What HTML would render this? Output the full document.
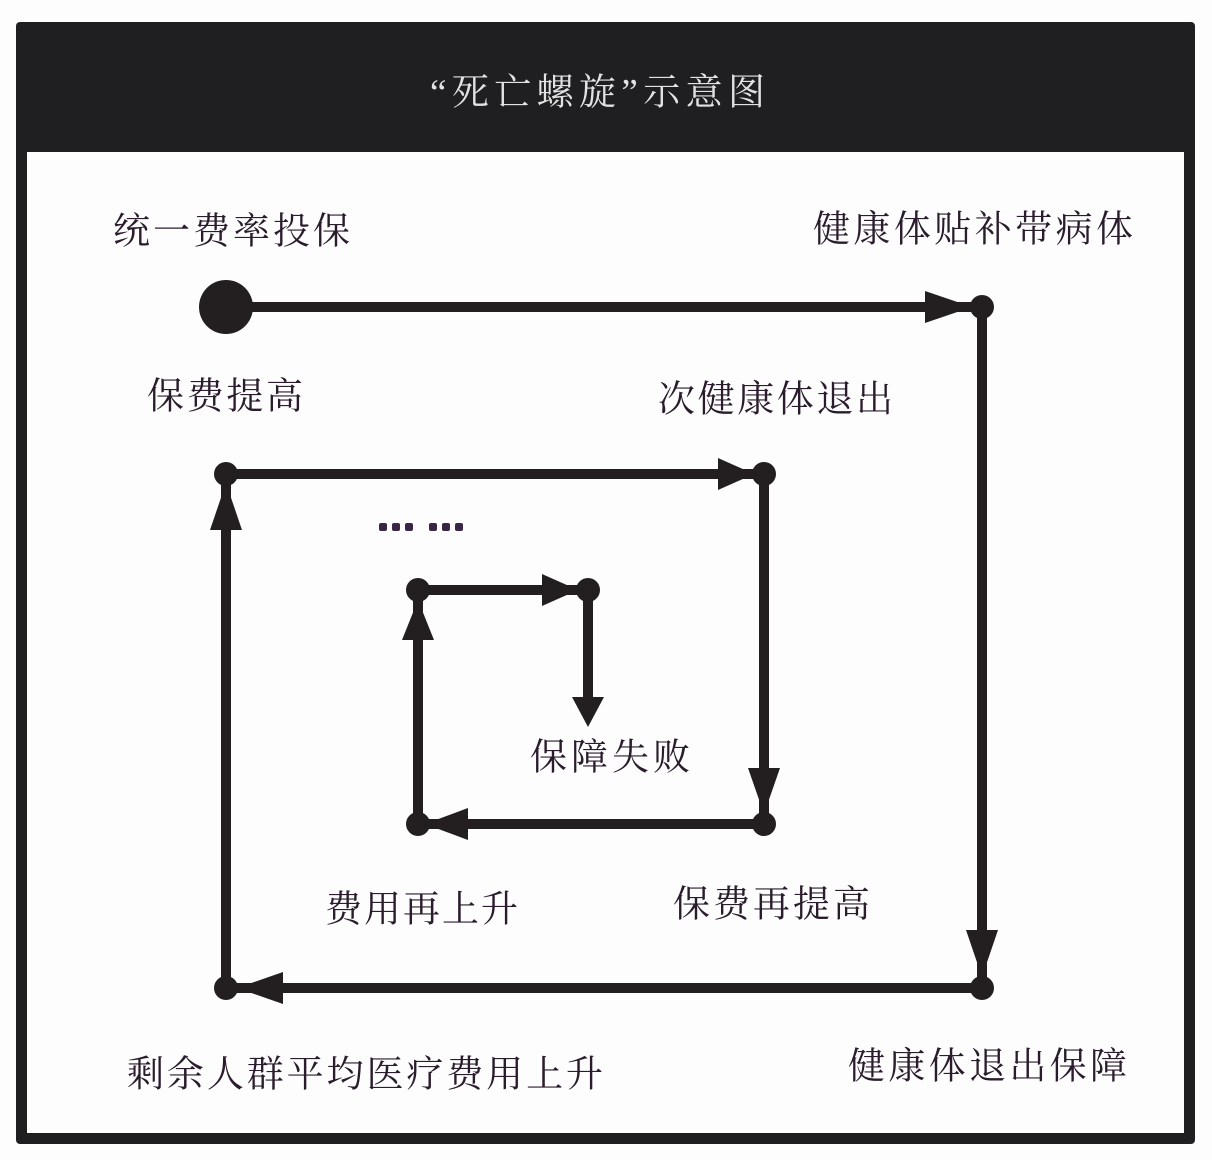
<!DOCTYPE html>
<html><head><meta charset="utf-8"><style>
html,body{margin:0;padding:0;background:#fdfdfd;}
svg{display:block}
text{font-family:"Liberation Serif","Noto Serif CJK SC",serif;fill:#2a1c2c;font-size:37px;dominant-baseline:central;}
</style></head><body>
<svg width="1212" height="1160" viewBox="0 0 1212 1160" xmlns="http://www.w3.org/2000/svg">
<rect x="0" y="0" width="1212" height="1160" fill="#fdfdfd"/>
<rect x="16" y="22" width="1179" height="1122" rx="4" fill="#1f1e20"/>
<rect x="27" y="152" width="1157" height="981" fill="#fdfdfe"/>
<text x="430" y="93" textLength="335" style="fill:#e2e2e2;font-size:37px">“死亡螺旋”示意图</text>
<g stroke="#231f20" stroke-width="10" fill="none">
<polyline points="226,307 982,307 982,988 226,988 226,474 764,474 764,824 418,824 418,590 588,590 588,700"/>
</g>
<g fill="#231f20">
<circle cx="226" cy="307" r="27"/>
<circle cx="982" cy="307" r="12"/><circle cx="982" cy="988" r="12"/><circle cx="226" cy="988" r="12"/>
<circle cx="226" cy="474" r="12"/><circle cx="764" cy="474" r="12"/><circle cx="764" cy="824" r="12"/>
<circle cx="418" cy="824" r="12"/><circle cx="418" cy="590" r="12"/><circle cx="588" cy="590" r="12"/>
<!-- arrows -->
<polygon points="925,291 972,307 925,323"/>
<polygon points="966,930 998,930 982,977"/>
<polygon points="283,972 283,1004 237,988"/>
<polygon points="210,530 242,530 226,483"/>
<polygon points="718,458 718,490 754,474"/>
<polygon points="748,768 780,768 764,814"/>
<polygon points="468,808 468,840 425,824"/>
<polygon points="402,640 434,640 418,600"/>
<polygon points="542,574 542,606 578,590"/>
<polygon points="572,697 604,697 588,727"/>
</g>
<g fill="#3a2545">
<rect x="379" y="523" width="8" height="8" rx="2"/><rect x="392" y="523" width="8" height="8" rx="2"/><rect x="405" y="523" width="8" height="8" rx="2"/>
<rect x="429" y="523" width="8" height="8" rx="2"/><rect x="442" y="523" width="8" height="8" rx="2"/><rect x="455" y="523" width="8" height="8" rx="2"/>
</g>
<text x="113" y="232" textLength="237">统一费率投保</text>
<text x="813" y="230" textLength="320">健康体贴补带病体</text>
<text x="147" y="397" textLength="156">保费提高</text>
<text x="658" y="400" textLength="235">次健康体退出</text>
<text x="530" y="758" textLength="160">保障失败</text>
<text x="325" y="910" textLength="193">费用再上升</text>
<text x="673" y="905" textLength="197">保费再提高</text>
<text x="127" y="1075" textLength="476">剩余人群平均医疗费用上升</text>
<text x="848" y="1067" textLength="279">健康体退出保障</text>
</svg>
</body></html>
